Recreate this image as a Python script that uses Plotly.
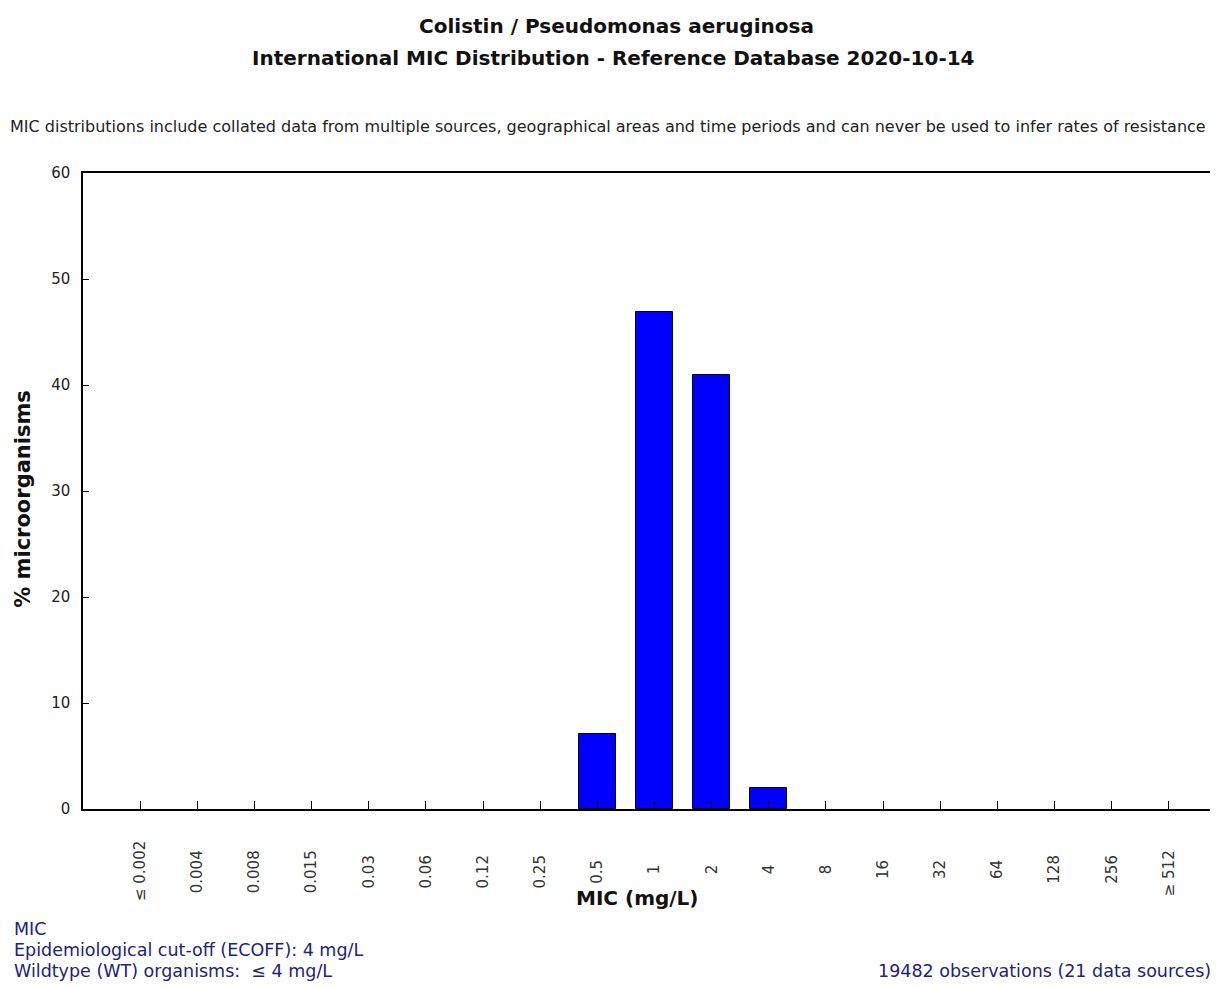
import plotly.graph_objects as go

mic_labels = ["≤ 0.002", "0.004", "0.008", "0.015", "0.03", "0.06", "0.12", "0.25",
              "0.5", "1", "2", "4", "8", "16", "32", "64", "128", "256", "≥ 512"]
percent = [0, 0, 0, 0, 0, 0, 0, 0, 7.1, 46.9, 40.9, 2.0, 0, 0, 0, 0, 0, 0, 0]
y_ticks = [0, 10, 20, 30, 40, 50, 60]

title_line1 = "Colistin / Pseudomonas aeruginosa"
title_line2 = "International MIC Distribution - Reference Database 2020-10-14"
subtitle = ("MIC distributions include collated data from multiple sources, geographical areas "
            "and time periods and can never be used to infer rates of resistance")
info_lines = ["MIC", "Epidemiological cut-off (ECOFF): 4 mg/L", "Wildtype (WT) organisms:  ≤ 4 mg/L"]
obs_text = "19482 observations (21 data sources)"

idx = list(range(len(mic_labels)))
# empty classes are not drawn as bars (no outline on the baseline)
bar_vals = [v if v > 0 else None for v in percent]

# The rotated category labels are centred on a common line in the original chart.
# Plotly anchors rotated labels at their end, so pad them with no-break spaces
# (DejaVu Sans advance widths, 1/1000 em) to centre them.
_adv = {"0": 636, "1": 636, "2": 636, "3": 636, "4": 636, "5": 636, "6": 636,
        "7": 636, "8": 636, "9": 636, ".": 318, " ": 318, "≤": 838, "≥": 838}
_w = [sum(_adv.get(c, 636) for c in s) for s in mic_labels]
_wmax = max(_w)
tick_text = [s + "\u00a0" * int(round((_wmax - w) / 2 / 318)) for s, w in zip(mic_labels, _w)]

fig = go.Figure()
fig.add_trace(go.Bar(
    x=idx, y=bar_vals, width=0.65,
    marker=dict(color="#0000ff", line=dict(color="#000000", width=1)),
    hoverinfo="y",
))

navy = "#22227a"

# page is rendered with an 8px body margin: figure spans page x 8..1218, y 8..987
fig.update_layout(
    width=1210, height=979,
    margin=dict(l=75, r=2, t=165, b=178),
    paper_bgcolor="white", plot_bgcolor="white",
    showlegend=False,
    bargap=0,
    xaxis=dict(
        range=[-1, 18.79], tickmode="array", tickvals=idx, ticktext=tick_text,
        tickangle=-90, ticks="inside", ticklen=8, tickcolor="#000000", tickwidth=1,
        showgrid=False, zeroline=False, showline=True, linecolor="#000000", linewidth=1.5,
        mirror=True, tickfont=dict(family="DejaVu Sans", size=15, color="#333333"),
        ticklabelstandoff=24, fixedrange=True,
    ),
    yaxis=dict(
        range=[0, 60], tickmode="array", tickvals=y_ticks,
        ticks="inside", ticklen=6, tickcolor="#000000", tickwidth=1,
        showgrid=False, zeroline=False, showline=True, linecolor="#000000", linewidth=1.5,
        mirror=True, tickfont=dict(family="DejaVu Sans", size=15, color="#222222"),
        ticklabelstandoff=8, fixedrange=True,
    ),
)

def px_x(px):  # page pixel -> paper
    return (px - 83) / 1133.0

def px_y(py):
    return (809.3 - py) / 636.0

ann = []
ann.append(dict(text="<b>" + title_line1 + "</b>", x=px_x(617), y=px_y(26),
                font=dict(family="DejaVu Sans", size=20, color="#111111")))
ann.append(dict(text="<b>" + title_line2 + "</b>", x=px_x(614), y=px_y(58),
                font=dict(family="DejaVu Sans", size=20, color="#111111")))
ann.append(dict(text=subtitle, x=px_x(609), y=px_y(127),
                font=dict(family="DejaVu Sans", size=16, color="#222222")))
ann.append(dict(text="<b>MIC (mg/L)</b>", x=px_x(638), y=px_y(898),
                font=dict(family="DejaVu Sans", size=20, color="#111111")))
ann.append(dict(text="<b>% microorganisms</b>", x=px_x(23), y=px_y(499), textangle=-90,
                font=dict(family="DejaVu Sans", size=21, color="#111111")))
for line, py in zip(info_lines, [929, 950, 971]):
    ann.append(dict(text=line, x=px_x(12), y=px_y(py), xanchor="left",
                    font=dict(family="DejaVu Sans", size=17.5, color=navy)))
ann.append(dict(text=obs_text, x=px_x(1215), y=px_y(971), xanchor="right",
                font=dict(family="DejaVu Sans", size=17.5, color=navy)))

for a in ann:
    a.setdefault("xanchor", "center")
    a.update(xref="paper", yref="paper", yanchor="middle", showarrow=False)
fig.update_layout(annotations=ann)

fig.write_html("out.html")
